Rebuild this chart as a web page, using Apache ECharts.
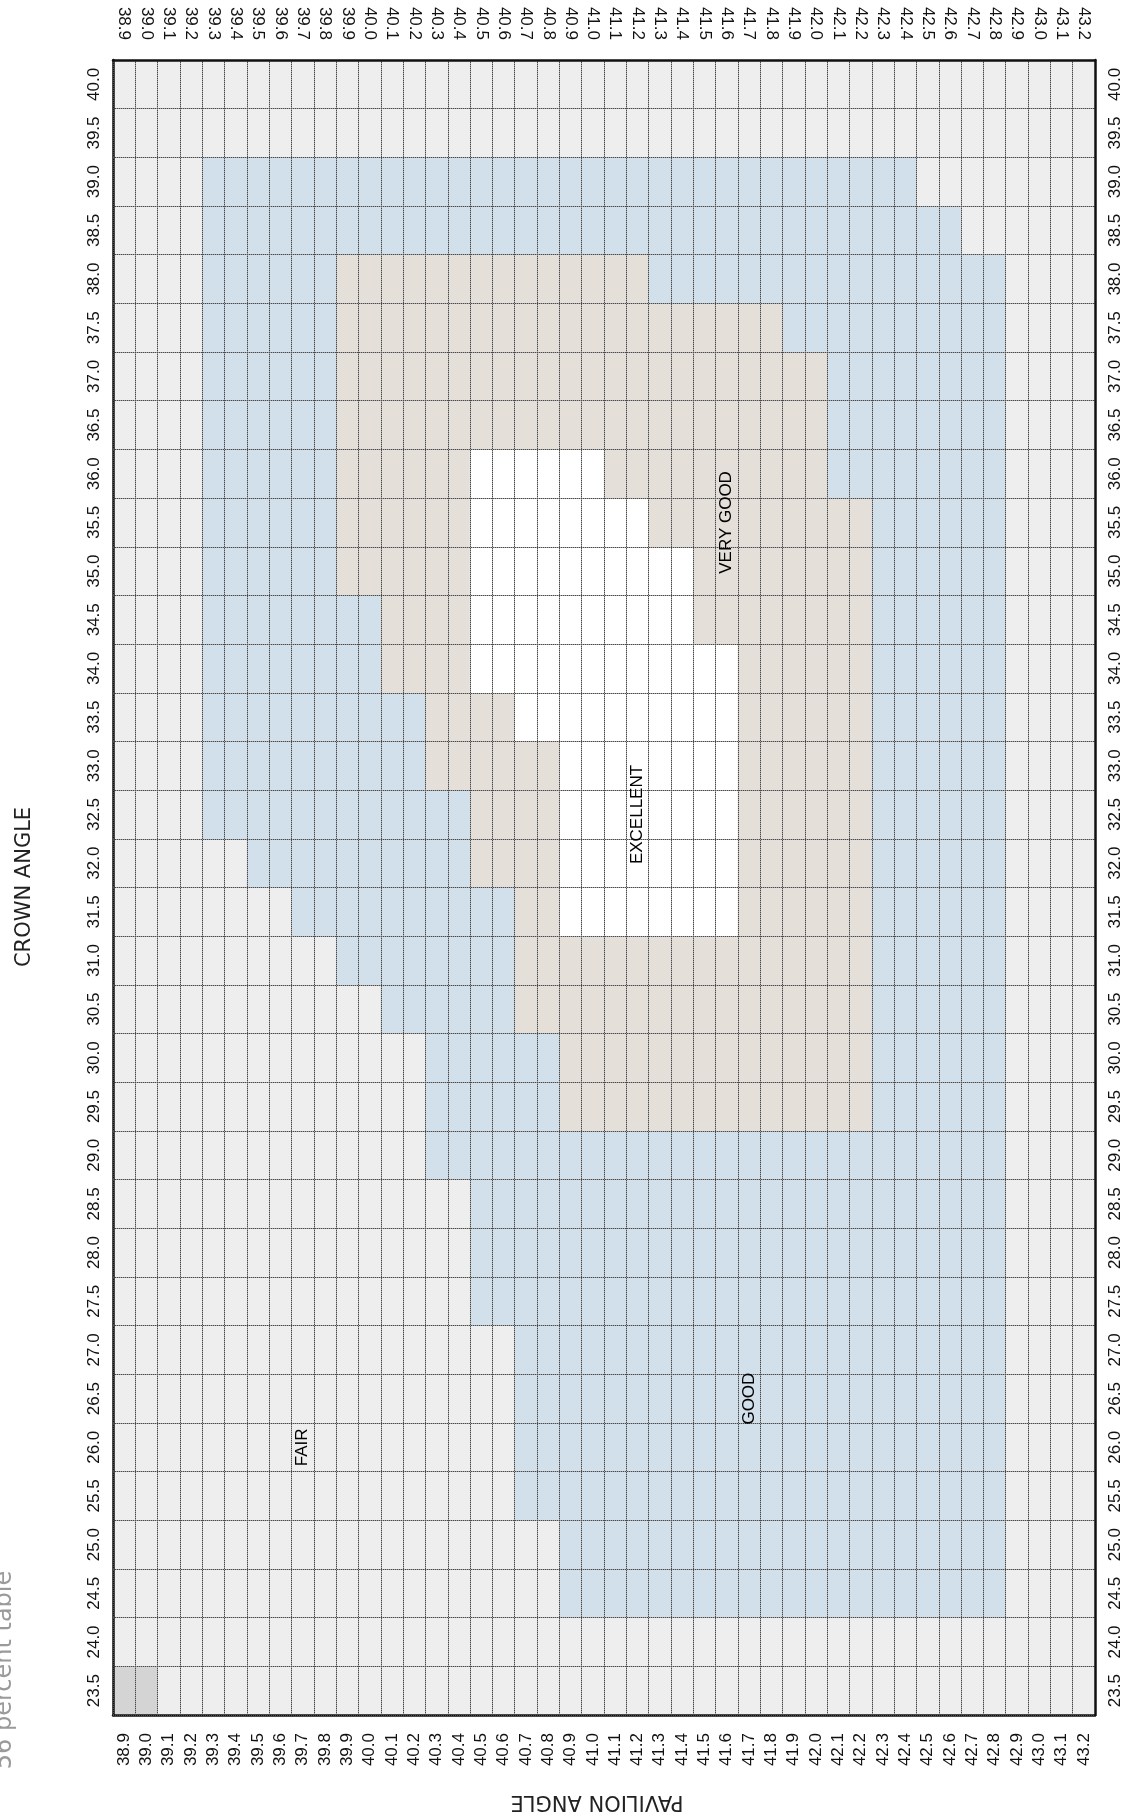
<!DOCTYPE html>
<html>
<head>
<meta charset="utf-8">
<script src="https://cdn.jsdelivr.net/npm/echarts@6/dist/echarts.min.js"></script>
<style>
  html, body { margin: 0; padding: 0; background: #ffffff; }
  #chart { width: 1125px; height: 1820px; }
</style>
</head>
<body>
<div id="chart"></div>
<script>
// Pavilion angles (columns) and crown angles (rows, bottom to top)
const pavilionAngles = ['38.9','39.0','39.1','39.2','39.3','39.4','39.5','39.6','39.7','39.8','39.9',
  '40.0','40.1','40.2','40.3','40.4','40.5','40.6','40.7','40.8','40.9',
  '41.0','41.1','41.2','41.3','41.4','41.5','41.6','41.7','41.8','41.9',
  '42.0','42.1','42.2','42.3','42.4','42.5','42.6','42.7','42.8','42.9',
  '43.0','43.1','43.2'];
const crownAngles = ['23.5','24.0','24.5','25.0','25.5','26.0','26.5','27.0','27.5','28.0','28.5',
  '29.0','29.5','30.0','30.5','31.0','31.5','32.0','32.5','33.0','33.5','34.0','34.5','35.0',
  '35.5','36.0','36.5','37.0','37.5','38.0','38.5','39.0','39.5','40.0'];

// Cut grade per crown row, run-length coded along the pavilion columns.
// P = poor, F = fair, G = good, V = very good, E = excellent
const gradeRuns = [
  'P2 F42',                   // 23.5
  'F44',                      // 24.0
  'F20 G20 F4',               // 24.5
  'F20 G20 F4',               // 25.0
  'F18 G22 F4',               // 25.5
  'F18 G22 F4',               // 26.0
  'F18 G22 F4',               // 26.5
  'F18 G22 F4',               // 27.0
  'F16 G24 F4',               // 27.5
  'F16 G24 F4',               // 28.0
  'F16 G24 F4',               // 28.5
  'F14 G26 F4',               // 29.0
  'F14 G6 V14 G6 F4',         // 29.5
  'F14 G6 V14 G6 F4',         // 30.0
  'F12 G6 V16 G6 F4',         // 30.5
  'F10 G8 V16 G6 F4',         // 31.0
  'F8 G10 V2 E8 V6 G6 F4',    // 31.5
  'F6 G10 V4 E8 V6 G6 F4',    // 32.0
  'F4 G12 V4 E8 V6 G6 F4',    // 32.5
  'F4 G10 V6 E8 V6 G6 F4',    // 33.0
  'F4 G10 V4 E10 V6 G6 F4',   // 33.5
  'F4 G8 V4 E12 V6 G6 F4',    // 34.0
  'F4 G8 V4 E10 V8 G6 F4',    // 34.5
  'F4 G6 V6 E10 V8 G6 F4',    // 35.0
  'F4 G6 V6 E8 V10 G6 F4',    // 35.5
  'F4 G6 V6 E6 V10 G8 F4',    // 36.0
  'F4 G6 V22 G8 F4',          // 36.5
  'F4 G6 V22 G8 F4',          // 37.0
  'F4 G6 V20 G10 F4',         // 37.5
  'F4 G6 V14 G16 F4',         // 38.0
  'F4 G34 F6',                // 38.5
  'F4 G32 F8',                // 39.0
  'F44',                      // 39.5
  'F44'                       // 40.0
];

const gradeCodes = ['P', 'F', 'G', 'V', 'E'];
const gradeColors = ['#d4d4d4', '#eeeeee', '#d1e0ea', '#e4e0d9', '#ffffff'];

// Region captions and the cell each one sits in
const regionNames = ['EXCELLENT', 'VERY GOOD', 'GOOD', 'FAIR'];
const regionPavilion = ['41.2', '41.6', '41.7', '39.7'];
const regionCrown = ['32.5', '35.5', '26.5', '26.0'];

// Expand the run-length rows into heatmap cells [x, y, grade]
const cells = [];
gradeRuns.forEach(function (row, y) {
  let x = 0;
  row.split(' ').forEach(function (run) {
    const code = gradeCodes.indexOf(run[0]);
    const n = parseInt(run.slice(1), 10);
    for (let k = 0; k < n; k++) { cells.push([x, y, code]); x++; }
  });
});

const labelFont = { fontFamily: 'Liberation Sans, Arial, sans-serif', fontSize: 17, color: '#111' };

function catAxis(data, position, margin, lineStyle, z) {
  return {
    type: 'category',
    data: data,
    position: position,
    boundaryGap: true,
    z: z,
    axisLine: { show: true, onZero: false, lineStyle: { color: '#111', width: 2.5 } },
    axisTick: { show: false },
    axisLabel: Object.assign({ show: true, interval: 0, rotate: 90, margin: margin }, labelFont),
    splitLine: { show: true, interval: 0, lineStyle: lineStyle }
  };
}

const solidGrid = { color: '#a3a3a3', width: 1, type: 'solid' };
const dottedGrid = { color: '#4a4a4a', width: 1, type: [1, 1] };

const option = {
  backgroundColor: '#ffffff',
  animation: false,
  grid: { left: 113, top: 60, width: 982, height: 1655, containLabel: false },
  xAxis: [
    catAxis(pavilionAngles, 'bottom', 18, solidGrid, 5),
    catAxis(pavilionAngles, 'top', 20, dottedGrid, 6)
  ],
  yAxis: [
    catAxis(crownAngles, 'left', 10, solidGrid, 5),
    catAxis(crownAngles, 'right', 12, dottedGrid, 6)
  ],
  visualMap: {
    type: 'piecewise',
    show: false,
    dimension: 2,
    seriesIndex: 0,
    pieces: gradeColors.map(function (c, i) { return { value: i, color: c }; })
  },
  series: [
    {
      type: 'heatmap',
      xAxisIndex: 0,
      yAxisIndex: 0,
      data: cells,
      itemStyle: { borderWidth: 0 },
      emphasis: { disabled: true }
    },
    {
      type: 'scatter',
      xAxisIndex: 0,
      yAxisIndex: 0,
      z: 10,
      symbolSize: 0,
      silent: true,
      data: regionNames.map(function (name, i) { return [regionPavilion[i], regionCrown[i], name]; }),
      label: Object.assign({
        show: true,
        position: 'inside',
        rotate: 90,
        formatter: function (p) { return p.value[2]; }
      }, labelFont, { color: '#000000', opacity: 1 })
    }
  ],
  graphic: [
    {
      type: 'text', x: 25, y: 887, rotation: Math.PI / 2,
      style: { text: 'CROWN ANGLE', fill: '#222', font: '21px "DejaVu Sans", sans-serif',
               align: 'center', verticalAlign: 'middle' }
    },
    {
      type: 'text', x: 597, y: 1801, rotation: Math.PI,
      style: { text: 'PAVILION ANGLE', fill: '#222', font: '21px "DejaVu Sans", sans-serif',
               align: 'center', verticalAlign: 'middle' }
    },
    {
      type: 'text', x: 5, y: 1670, rotation: Math.PI / 2,
      style: { text: '56 percent table', fill: '#9a9a9a', font: '24px "DejaVu Sans", sans-serif',
               align: 'center', verticalAlign: 'middle' }
    }
  ]
};

const chart = echarts.init(document.getElementById('chart'), null, { renderer: 'canvas' });
chart.setOption(option);
</script>
</body>
</html>
